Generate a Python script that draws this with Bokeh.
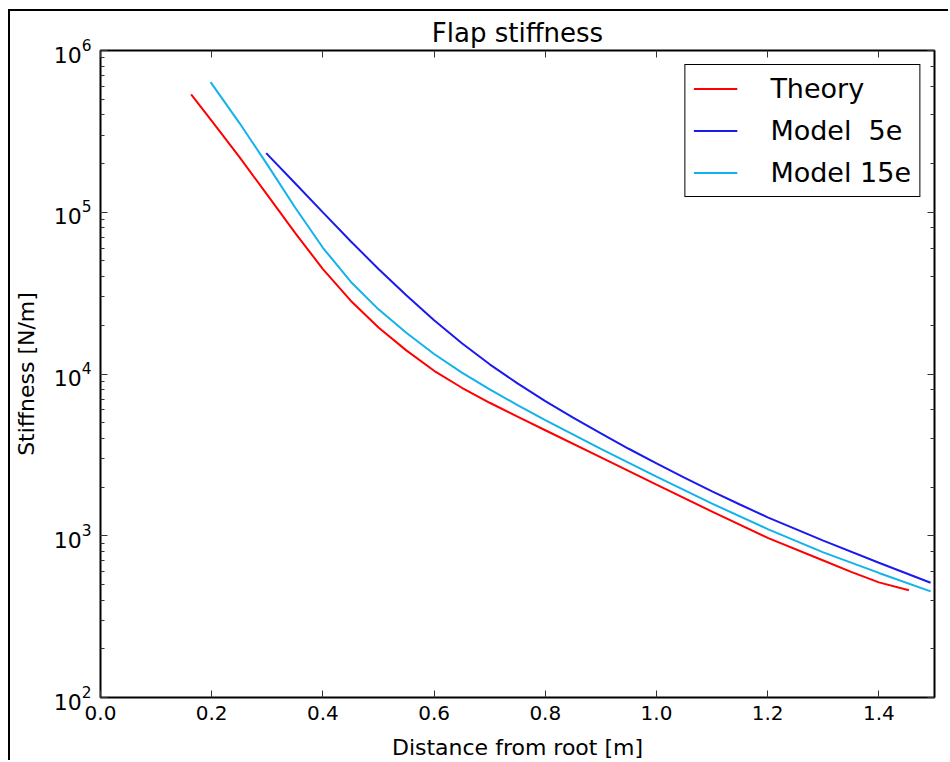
from bokeh.plotting import figure
from bokeh.models import (Range1d, LinearAxis, LogAxis, FixedTicker, PrintfTickFormatter,
                          Legend, LegendItem, CustomJSTickFormatter)
from bokeh.embed import file_html
from bokeh.resources import INLINE

# ---- data ----
x_theory = [0.163, 0.20, 0.25, 0.30, 0.35, 0.40, 0.45, 0.50, 0.55, 0.60, 0.65, 0.70, 0.75,
            0.80, 0.90, 1.00, 1.10, 1.20, 1.30, 1.35, 1.40, 1.454]
y_theory = [5.35e5, 3.67e5, 2.19e5, 1.28e5, 7.46e4, 4.45e4, 2.84e4, 1.94e4, 1.40e4, 1.047e4,
            8.22e3, 6.64e3, 5.45e3, 4.49e3, 3.05e3, 2.07e3, 1.41e3, 971, 703, 598, 515, 460]

x_model5 = [0.298, 0.35, 0.40, 0.45, 0.50, 0.55, 0.60, 0.65, 0.70, 0.75, 0.80, 0.85,
            0.90, 0.95, 1.00, 1.05, 1.10, 1.15, 1.20, 1.30, 1.40, 1.493]
y_model5 = [2.32e5, 1.51e5, 9.98e4, 6.62e4, 4.46e4, 3.07e4, 2.15e4, 1.55e4, 1.148e4, 8.75e3,
            6.79e3, 5.37e3, 4.29e3, 3.45e3, 2.80e3, 2.29e3, 1.88e3, 1.56e3, 1.30e3, 933, 681, 512]

x_model15 = [0.198, 0.25, 0.30, 0.35, 0.40, 0.45, 0.50, 0.55, 0.60, 0.65, 0.70, 0.75, 0.80,
             0.90, 1.00, 1.10, 1.20, 1.30, 1.40, 1.493]
y_model15 = [6.37e5, 3.56e5, 1.97e5, 1.07e5, 6.03e4, 3.72e4, 2.51e4, 1.80e4, 1.33e4, 1.02e4,
             8.04e3, 6.43e3, 5.19e3, 3.44e3, 2.32e3, 1.58e3, 1.10e3, 789, 589, 453]

x_ticks = [0.0, 0.2, 0.4, 0.6, 0.8, 1.0, 1.2, 1.4]
series_names = ["Theory", "Model  5e", "Model 15e"]
series_colors = ["#ff0000", "#1a1aee", "#12b2ea"]

FONT = "DejaVu Sans"

p = figure(width=940, height=751, y_axis_type="log",
           x_range=Range1d(0, 1.5), y_range=Range1d(1e2, 1e6),
           output_backend="svg", toolbar_location=None,
           min_border_left=85, min_border_right=16, min_border_top=39, min_border_bottom=64,
           title="Flap stiffness")
p.styles = {"border-top": "2px solid black", "border-left": "2px solid black",
            "margin-left": "8px", "margin-top": "9px"}

p.title.text_font = FONT
p.title.text_font_size = "26px"
p.title.text_font_style = "normal"
p.title.text_color = "black"
p.title.align = "center"
p.title.standoff = 6

p.xgrid.visible = False
p.ygrid.visible = False
p.outline_line_color = "black"
p.outline_line_width = 2
p.outline_line_alpha = 1.0

r1 = p.line(x_theory, y_theory, line_color=series_colors[0], line_width=2)
r2 = p.line(x_model5, y_model5, line_color=series_colors[1], line_width=2)
r3 = p.line(x_model15, y_model15, line_color=series_colors[2], line_width=2)

# bottom / left axes
xa = p.xaxis[0]
xa.ticker = FixedTicker(ticks=x_ticks)
xa.formatter = PrintfTickFormatter(format="%.1f")
ya = p.yaxis[0]
for ax in (xa, ya):
    ax.axis_line_color = None
    ax.major_tick_in = 7
    ax.major_tick_out = 0
    ax.minor_tick_in = 4
    ax.minor_tick_out = 0
    ax.major_tick_line_color = "#333333"
    ax.minor_tick_line_color = "#333333"
    ax.major_label_text_font = FONT
    ax.major_label_text_color = "black"
    ax.axis_label_text_font = FONT
    ax.axis_label_text_font_size = "22px"
    ax.axis_label_text_font_style = "normal"
    ax.axis_label_text_color = "black"
xa.major_label_text_font_size = "20px"
ya.major_label_text_font_size = "22px"
xa.minor_tick_line_color = None
xa.axis_label = "Distance from root [m]"
xa.major_label_standoff = 8
xa.axis_label_standoff = 12
ya.axis_label = "Stiffness [N/m]"
ya.major_label_standoff = 9
ya.axis_label_standoff = 12

# mirrored ticks on top and right (no labels)
top = LinearAxis(ticker=FixedTicker(ticks=x_ticks), formatter=CustomJSTickFormatter(code="return ''"),
                 axis_line_color=None, major_tick_in=7, major_tick_out=0,
                 minor_tick_line_color=None, major_tick_line_color="#333333",
                 major_label_standoff=0)
right = LogAxis(formatter=CustomJSTickFormatter(code="return ''"), axis_line_color=None,
                major_tick_in=7, major_tick_out=0, minor_tick_in=4, minor_tick_out=0,
                major_tick_line_color="#333333", minor_tick_line_color="#333333",
                major_label_standoff=0)
p.add_layout(top, "above")
p.add_layout(right, "right")

legend = Legend(items=[LegendItem(label=series_names[0], renderers=[r1]),
                       LegendItem(label=series_names[1], renderers=[r2]),
                       LegendItem(label=series_names[2], renderers=[r3])],
                location="top_right")
legend.label_text_font = FONT
legend.label_text_font_size = "27px"
legend.label_text_color = "black"
legend.glyph_width = 44
legend.glyph_height = 29
legend.label_height = 29
legend.label_standoff = 33
legend.spacing = 11
legend.padding = 8
legend.margin = 14
legend.border_line_color = "black"
legend.border_line_width = 1.5
legend.border_line_alpha = 1.0
legend.background_fill_alpha = 1.0
p.add_layout(legend)

open("out.html", "w").write(file_html(p, INLINE))
